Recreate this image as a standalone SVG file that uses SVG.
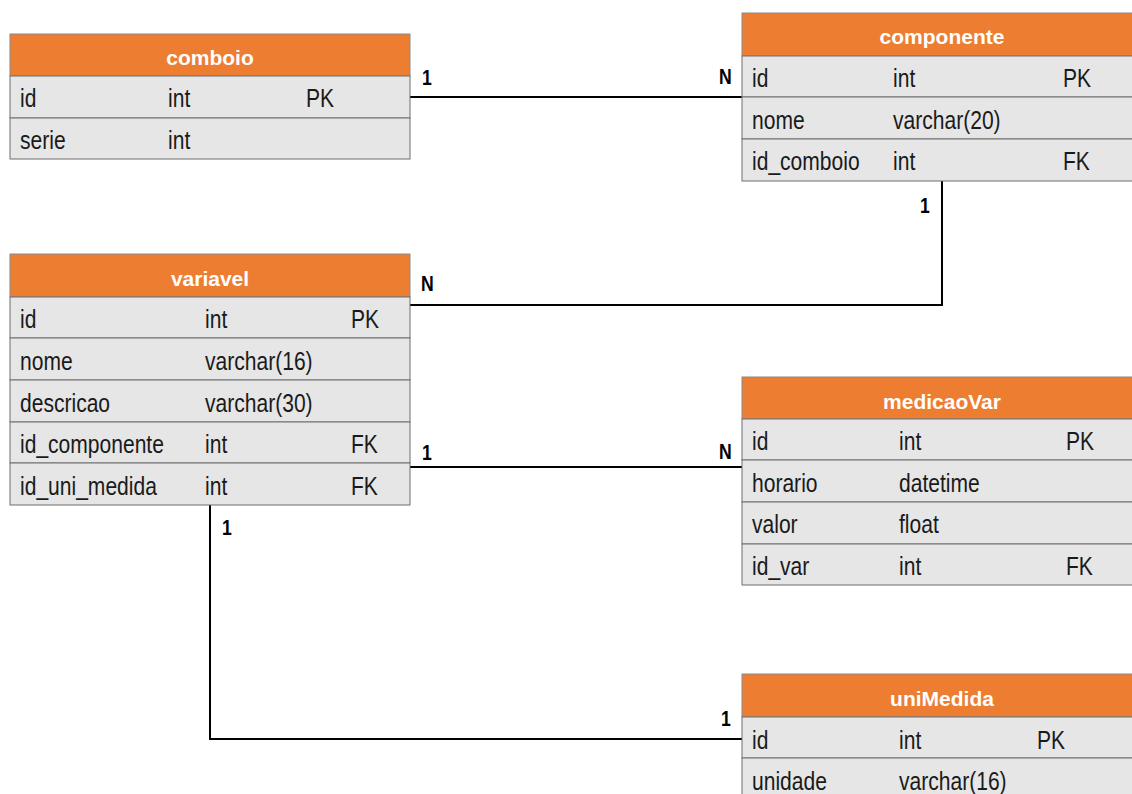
<svg xmlns="http://www.w3.org/2000/svg" width="1132" height="794" viewBox="0 0 1132 794">
<style>
.hdr{fill:#ED7D31;stroke:#8a8a8a;stroke-width:1}
.row{fill:#E6E6E6;stroke:#6f6f6f;stroke-width:1}
.ht{font-family:"Liberation Sans",Arial,sans-serif;font-weight:bold;font-size:21px;fill:#fff;text-anchor:middle}
.t{font-family:"Liberation Sans",Arial,sans-serif;font-size:26px;fill:#1a1a1a}
.lbl{font-family:"Liberation Sans",Arial,sans-serif;font-weight:bold;font-size:22px;fill:#000}
.ln{fill:none;stroke:#000;stroke-width:2}
</style>
<rect width="1132" height="794" fill="#fff"/>
<g id="connectors">
<line class="ln" x1="410" y1="97" x2="742" y2="97"/>
<polyline class="ln" points="942,181 942,305 410,305"/>
<line class="ln" x1="410" y1="467" x2="742" y2="467"/>
<polyline class="ln" points="210,505 210,739 742,739"/>
<text class="lbl" transform="translate(422,85) scale(0.8,1)">1</text>
<text class="lbl" transform="translate(719,84) scale(0.8,1)">N</text>
<text class="lbl" transform="translate(920,213) scale(0.8,1)">1</text>
<text class="lbl" transform="translate(421,291) scale(0.8,1)">N</text>
<text class="lbl" transform="translate(422,460) scale(0.8,1)">1</text>
<text class="lbl" transform="translate(719,459) scale(0.8,1)">N</text>
<text class="lbl" transform="translate(222,535) scale(0.8,1)">1</text>
<text class="lbl" transform="translate(721,726) scale(0.8,1)">1</text>
</g>
<g id="comboio">
<rect class="hdr" x="10" y="34" width="400" height="42"/>
<text class="ht" x="210" y="65">comboio</text>
<rect class="row" x="10" y="76" width="400" height="42"/>
<rect class="row" x="10" y="118" width="400" height="41"/>
<text class="t" transform="translate(20,107) scale(0.81,1)">id</text><text class="t" transform="translate(168,107) scale(0.81,1)">int</text><text class="t" transform="translate(306,107) scale(0.81,1)">PK</text>
<text class="t" transform="translate(20,149) scale(0.81,1)">serie</text><text class="t" transform="translate(168,149) scale(0.81,1)">int</text>
</g>
<g id="componente">
<rect class="hdr" x="742" y="13" width="400" height="43"/>
<text class="ht" x="942" y="44">componente</text>
<rect class="row" x="742" y="56" width="400" height="41"/>
<rect class="row" x="742" y="97" width="400" height="42"/>
<rect class="row" x="742" y="139" width="400" height="42"/>
<text class="t" transform="translate(752,87) scale(0.81,1)">id</text><text class="t" transform="translate(893,87) scale(0.81,1)">int</text><text class="t" transform="translate(1063,87) scale(0.81,1)">PK</text>
<text class="t" transform="translate(752,129) scale(0.81,1)">nome</text><text class="t" transform="translate(893,129) scale(0.81,1)">varchar(20)</text>
<text class="t" transform="translate(752,170) scale(0.81,1)">id_comboio</text><text class="t" transform="translate(893,170) scale(0.81,1)">int</text><text class="t" transform="translate(1063,170) scale(0.81,1)">FK</text>
</g>
<g id="variavel">
<rect class="hdr" x="10" y="254" width="400" height="43"/>
<text class="ht" x="210" y="286">variavel</text>
<rect class="row" x="10" y="297" width="400" height="41"/>
<rect class="row" x="10" y="338" width="400" height="42"/>
<rect class="row" x="10" y="380" width="400" height="42"/>
<rect class="row" x="10" y="422" width="400" height="41"/>
<rect class="row" x="10" y="463" width="400" height="42"/>
<text class="t" transform="translate(20,328) scale(0.81,1)">id</text><text class="t" transform="translate(205,328) scale(0.81,1)">int</text><text class="t" transform="translate(351,328) scale(0.81,1)">PK</text>
<text class="t" transform="translate(20,370) scale(0.81,1)">nome</text><text class="t" transform="translate(205,370) scale(0.81,1)">varchar(16)</text>
<text class="t" transform="translate(20,412) scale(0.81,1)">descricao</text><text class="t" transform="translate(205,412) scale(0.81,1)">varchar(30)</text>
<text class="t" transform="translate(20,453) scale(0.81,1)">id_componente</text><text class="t" transform="translate(205,453) scale(0.81,1)">int</text><text class="t" transform="translate(351,453) scale(0.81,1)">FK</text>
<text class="t" transform="translate(20,495) scale(0.81,1)">id_uni_medida</text><text class="t" transform="translate(205,495) scale(0.81,1)">int</text><text class="t" transform="translate(351,495) scale(0.81,1)">FK</text>
</g>
<g id="medicaoVar">
<rect class="hdr" x="742" y="377" width="400" height="42"/>
<text class="ht" x="942" y="409">medicaoVar</text>
<rect class="row" x="742" y="419" width="400" height="41"/>
<rect class="row" x="742" y="460" width="400" height="42"/>
<rect class="row" x="742" y="502" width="400" height="42"/>
<rect class="row" x="742" y="544" width="400" height="41"/>
<text class="t" transform="translate(752,450) scale(0.81,1)">id</text><text class="t" transform="translate(899,450) scale(0.81,1)">int</text><text class="t" transform="translate(1066,450) scale(0.81,1)">PK</text>
<text class="t" transform="translate(752,492) scale(0.81,1)">horario</text><text class="t" transform="translate(899,492) scale(0.81,1)">datetime</text>
<text class="t" transform="translate(752,533) scale(0.81,1)">valor</text><text class="t" transform="translate(899,533) scale(0.81,1)">float</text>
<text class="t" transform="translate(752,575) scale(0.81,1)">id_var</text><text class="t" transform="translate(899,575) scale(0.81,1)">int</text><text class="t" transform="translate(1066,575) scale(0.81,1)">FK</text>
</g>
<g id="uniMedida">
<rect class="hdr" x="742" y="674" width="400" height="43"/>
<text class="ht" x="942" y="706">uniMedida</text>
<rect class="row" x="742" y="717" width="400" height="41"/>
<rect class="row" x="742" y="758" width="400" height="42"/>
<text class="t" transform="translate(752,749) scale(0.81,1)">id</text><text class="t" transform="translate(899,749) scale(0.81,1)">int</text><text class="t" transform="translate(1037,749) scale(0.81,1)">PK</text>
<text class="t" transform="translate(752,790) scale(0.81,1)">unidade</text><text class="t" transform="translate(899,790) scale(0.81,1)">varchar(16)</text>
</g>
</svg>
